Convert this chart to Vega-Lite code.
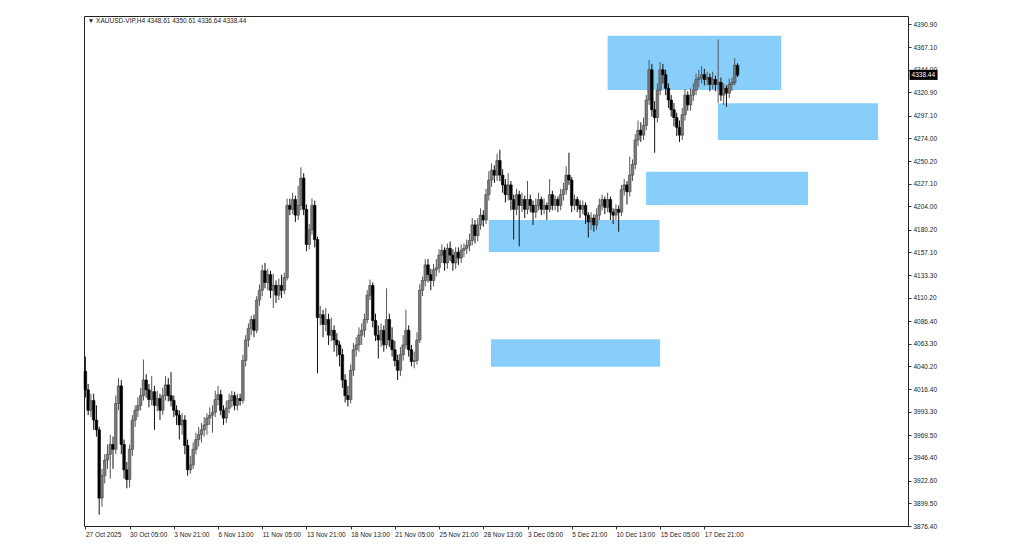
{
"$schema": "https://vega.github.io/schema/vega-lite/v6.json",
"width": 824, "height": 510,
"autosize": {"type": "none"},
"padding": {"left": 84, "top": 16, "right": 116, "bottom": 33},
"background": "#ffffff",
"config": {"view": {"stroke": "#222222", "strokeWidth": 1}, "font": "Liberation Sans", "axis": {"labelOverlap": false, "labelFlush": false}},
"datasets": {
"boxes": [
{"a":189.0,"b":251.8,"top":4378.9,"bot":4323.3},
{"a":228.9,"b":286.9,"top":4309.6,"bot":4272.0},
{"a":202.9,"b":261.5,"top":4239.5,"bot":4205.4},
{"a":146.0,"b":207.8,"top":4190.0,"bot":4157.2},
{"a":146.8,"b":208.0,"top":4067.7,"bot":4039.7}
],
"bars": [
{"i":0,"o":4035,"h":4050,"l":4008,"c":4016},
{"i":1,"o":4016,"h":4022,"l":3990,"c":3995},
{"i":2,"o":3995,"h":4012,"l":3988,"c":4005},
{"i":3,"o":4005,"h":4012,"l":3975,"c":3985},
{"i":4,"o":3985,"h":4000,"l":3968,"c":3975},
{"i":5,"o":3975,"h":3978,"l":3888,"c":3905},
{"i":6,"o":3905,"h":3935,"l":3896,"c":3928},
{"i":7,"o":3928,"h":3950,"l":3920,"c":3944},
{"i":8,"o":3944,"h":3960,"l":3935,"c":3950},
{"i":9,"o":3950,"h":3970,"l":3925,"c":3960},
{"i":10,"o":3960,"h":3968,"l":3935,"c":3955},
{"i":11,"o":3955,"h":4010,"l":3950,"c":4002},
{"i":12,"o":4002,"h":4028,"l":3995,"c":4020},
{"i":13,"o":4020,"h":4026,"l":3950,"c":3960},
{"i":14,"o":3960,"h":3965,"l":3925,"c":3934},
{"i":15,"o":3934,"h":3942,"l":3915,"c":3924},
{"i":16,"o":3924,"h":3960,"l":3916,"c":3955},
{"i":17,"o":3955,"h":3990,"l":3948,"c":3985},
{"i":18,"o":3985,"h":4000,"l":3978,"c":3995},
{"i":19,"o":3995,"h":4008,"l":3988,"c":4000},
{"i":20,"o":4000,"h":4018,"l":3995,"c":4010},
{"i":21,"o":4010,"h":4047,"l":4005,"c":4026},
{"i":22,"o":4026,"h":4032,"l":4008,"c":4016},
{"i":23,"o":4016,"h":4022,"l":3998,"c":4006},
{"i":24,"o":4006,"h":4030,"l":4000,"c":4014},
{"i":25,"o":4014,"h":4020,"l":3975,"c":4000},
{"i":26,"o":4000,"h":4015,"l":3994,"c":4007},
{"i":27,"o":4007,"h":4012,"l":3985,"c":3995},
{"i":28,"o":3995,"h":4018,"l":3990,"c":4010},
{"i":29,"o":4010,"h":4030,"l":4005,"c":4021},
{"i":30,"o":4021,"h":4028,"l":4004,"c":4010},
{"i":31,"o":4010,"h":4034,"l":3999,"c":4005},
{"i":32,"o":4005,"h":4010,"l":3988,"c":3995},
{"i":33,"o":3995,"h":4000,"l":3980,"c":3990},
{"i":34,"o":3990,"h":3995,"l":3965,"c":3980},
{"i":35,"o":3980,"h":3992,"l":3970,"c":3985},
{"i":36,"o":3985,"h":3990,"l":3950,"c":3959},
{"i":37,"o":3959,"h":3965,"l":3928,"c":3934},
{"i":38,"o":3934,"h":3948,"l":3930,"c":3939},
{"i":39,"o":3939,"h":3962,"l":3935,"c":3955},
{"i":40,"o":3955,"h":3972,"l":3950,"c":3965},
{"i":41,"o":3965,"h":3978,"l":3958,"c":3970},
{"i":42,"o":3970,"h":3982,"l":3962,"c":3975},
{"i":43,"o":3975,"h":3988,"l":3968,"c":3980},
{"i":44,"o":3980,"h":3992,"l":3970,"c":3987},
{"i":45,"o":3987,"h":3998,"l":3980,"c":3990},
{"i":46,"o":3990,"h":4000,"l":3972,"c":3993},
{"i":47,"o":3993,"h":4015,"l":3988,"c":4006},
{"i":48,"o":4006,"h":4020,"l":4000,"c":4011},
{"i":49,"o":4011,"h":4016,"l":3990,"c":3995},
{"i":50,"o":3995,"h":4000,"l":3980,"c":3987},
{"i":51,"o":3987,"h":4005,"l":3982,"c":3997},
{"i":52,"o":3997,"h":4012,"l":3992,"c":4005},
{"i":53,"o":4005,"h":4015,"l":3998,"c":4010},
{"i":54,"o":4010,"h":4014,"l":3995,"c":4000},
{"i":55,"o":4000,"h":4012,"l":3995,"c":4007},
{"i":56,"o":4007,"h":4012,"l":4000,"c":4005},
{"i":57,"o":4005,"h":4052,"l":4002,"c":4046},
{"i":58,"o":4046,"h":4072,"l":4040,"c":4067},
{"i":59,"o":4067,"h":4084,"l":4060,"c":4079},
{"i":60,"o":4079,"h":4092,"l":4072,"c":4088},
{"i":61,"o":4088,"h":4093,"l":4070,"c":4077},
{"i":62,"o":4077,"h":4112,"l":4074,"c":4108},
{"i":63,"o":4108,"h":4124,"l":4102,"c":4118},
{"i":64,"o":4118,"h":4144,"l":4112,"c":4138},
{"i":65,"o":4138,"h":4146,"l":4120,"c":4126},
{"i":66,"o":4126,"h":4140,"l":4118,"c":4134},
{"i":67,"o":4134,"h":4138,"l":4110,"c":4118},
{"i":68,"o":4118,"h":4135,"l":4100,"c":4123},
{"i":69,"o":4123,"h":4128,"l":4105,"c":4113},
{"i":70,"o":4113,"h":4130,"l":4108,"c":4123},
{"i":71,"o":4123,"h":4134,"l":4110,"c":4118},
{"i":72,"o":4118,"h":4136,"l":4114,"c":4131},
{"i":73,"o":4131,"h":4212,"l":4128,"c":4205},
{"i":74,"o":4205,"h":4212,"l":4195,"c":4201},
{"i":75,"o":4201,"h":4218,"l":4196,"c":4211},
{"i":76,"o":4211,"h":4215,"l":4188,"c":4195},
{"i":77,"o":4195,"h":4225,"l":4190,"c":4205},
{"i":78,"o":4205,"h":4244,"l":4200,"c":4233},
{"i":79,"o":4233,"h":4238,"l":4195,"c":4201},
{"i":80,"o":4201,"h":4206,"l":4158,"c":4165},
{"i":81,"o":4165,"h":4186,"l":4160,"c":4180},
{"i":82,"o":4180,"h":4212,"l":4175,"c":4205},
{"i":83,"o":4205,"h":4210,"l":4162,"c":4170},
{"i":84,"o":4170,"h":4173,"l":4033,"c":4090},
{"i":85,"o":4090,"h":4102,"l":4082,"c":4093},
{"i":86,"o":4093,"h":4098,"l":4070,"c":4083},
{"i":87,"o":4083,"h":4100,"l":4076,"c":4088},
{"i":88,"o":4088,"h":4094,"l":4062,"c":4072},
{"i":89,"o":4072,"h":4090,"l":4066,"c":4077},
{"i":90,"o":4077,"h":4082,"l":4055,"c":4067},
{"i":91,"o":4067,"h":4074,"l":4050,"c":4062},
{"i":92,"o":4062,"h":4066,"l":4040,"c":4052},
{"i":93,"o":4052,"h":4058,"l":4018,"c":4026},
{"i":94,"o":4026,"h":4032,"l":4003,"c":4010},
{"i":95,"o":4010,"h":4020,"l":3999,"c":4006},
{"i":96,"o":4006,"h":4042,"l":4002,"c":4036},
{"i":97,"o":4036,"h":4064,"l":4030,"c":4057},
{"i":98,"o":4057,"h":4070,"l":4050,"c":4062},
{"i":99,"o":4062,"h":4080,"l":4055,"c":4072},
{"i":100,"o":4072,"h":4084,"l":4062,"c":4077},
{"i":101,"o":4077,"h":4094,"l":4070,"c":4088},
{"i":102,"o":4088,"h":4118,"l":4084,"c":4113},
{"i":103,"o":4113,"h":4129,"l":4108,"c":4123},
{"i":104,"o":4123,"h":4126,"l":4080,"c":4087},
{"i":105,"o":4087,"h":4094,"l":4066,"c":4072},
{"i":106,"o":4072,"h":4082,"l":4048,"c":4067},
{"i":107,"o":4067,"h":4084,"l":4060,"c":4077},
{"i":108,"o":4077,"h":4082,"l":4055,"c":4062},
{"i":109,"o":4062,"h":4120,"l":4058,"c":4088},
{"i":110,"o":4088,"h":4094,"l":4060,"c":4067},
{"i":111,"o":4067,"h":4080,"l":4050,"c":4057},
{"i":112,"o":4057,"h":4066,"l":4040,"c":4046},
{"i":113,"o":4046,"h":4052,"l":4026,"c":4036},
{"i":114,"o":4036,"h":4060,"l":4030,"c":4052},
{"i":115,"o":4052,"h":4072,"l":4046,"c":4062},
{"i":116,"o":4062,"h":4098,"l":4058,"c":4077},
{"i":117,"o":4077,"h":4082,"l":4050,"c":4057},
{"i":118,"o":4057,"h":4062,"l":4040,"c":4045},
{"i":119,"o":4045,"h":4055,"l":4038,"c":4046},
{"i":120,"o":4046,"h":4075,"l":4042,"c":4067},
{"i":121,"o":4067,"h":4124,"l":4064,"c":4118},
{"i":122,"o":4118,"h":4132,"l":4112,"c":4128},
{"i":123,"o":4128,"h":4150,"l":4122,"c":4144},
{"i":124,"o":4144,"h":4150,"l":4126,"c":4134},
{"i":125,"o":4134,"h":4140,"l":4118,"c":4128},
{"i":126,"o":4128,"h":4145,"l":4122,"c":4139},
{"i":127,"o":4139,"h":4150,"l":4132,"c":4141},
{"i":128,"o":4141,"h":4160,"l":4136,"c":4154},
{"i":129,"o":4154,"h":4165,"l":4146,"c":4159},
{"i":130,"o":4159,"h":4162,"l":4138,"c":4146},
{"i":131,"o":4146,"h":4166,"l":4140,"c":4161},
{"i":132,"o":4161,"h":4168,"l":4148,"c":4154},
{"i":133,"o":4154,"h":4160,"l":4138,"c":4146},
{"i":134,"o":4146,"h":4162,"l":4140,"c":4157},
{"i":135,"o":4157,"h":4162,"l":4144,"c":4151},
{"i":136,"o":4151,"h":4165,"l":4146,"c":4159},
{"i":137,"o":4159,"h":4166,"l":4152,"c":4161},
{"i":138,"o":4161,"h":4170,"l":4155,"c":4164},
{"i":139,"o":4164,"h":4176,"l":4158,"c":4169},
{"i":140,"o":4169,"h":4192,"l":4164,"c":4185},
{"i":141,"o":4185,"h":4190,"l":4166,"c":4174},
{"i":142,"o":4174,"h":4192,"l":4168,"c":4185},
{"i":143,"o":4185,"h":4202,"l":4180,"c":4195},
{"i":144,"o":4195,"h":4200,"l":4183,"c":4190},
{"i":145,"o":4190,"h":4222,"l":4186,"c":4216},
{"i":146,"o":4216,"h":4240,"l":4210,"c":4231},
{"i":147,"o":4231,"h":4248,"l":4224,"c":4241},
{"i":148,"o":4241,"h":4246,"l":4228,"c":4236},
{"i":149,"o":4236,"h":4258,"l":4230,"c":4251},
{"i":150,"o":4251,"h":4262,"l":4230,"c":4236},
{"i":151,"o":4236,"h":4242,"l":4218,"c":4226},
{"i":152,"o":4226,"h":4232,"l":4208,"c":4216},
{"i":153,"o":4216,"h":4238,"l":4210,"c":4226},
{"i":154,"o":4226,"h":4230,"l":4200,"c":4211},
{"i":155,"o":4211,"h":4216,"l":4170,"c":4201},
{"i":156,"o":4201,"h":4222,"l":4195,"c":4216},
{"i":157,"o":4216,"h":4220,"l":4163,"c":4205},
{"i":158,"o":4205,"h":4218,"l":4198,"c":4211},
{"i":159,"o":4211,"h":4215,"l":4192,"c":4201},
{"i":160,"o":4201,"h":4230,"l":4196,"c":4211},
{"i":161,"o":4211,"h":4216,"l":4198,"c":4205},
{"i":162,"o":4205,"h":4210,"l":4185,"c":4198},
{"i":163,"o":4198,"h":4212,"l":4192,"c":4205},
{"i":164,"o":4205,"h":4218,"l":4200,"c":4211},
{"i":165,"o":4211,"h":4214,"l":4195,"c":4201},
{"i":166,"o":4201,"h":4212,"l":4196,"c":4205},
{"i":167,"o":4205,"h":4208,"l":4190,"c":4201},
{"i":168,"o":4201,"h":4232,"l":4198,"c":4216},
{"i":169,"o":4216,"h":4220,"l":4200,"c":4205},
{"i":170,"o":4205,"h":4215,"l":4200,"c":4211},
{"i":171,"o":4211,"h":4214,"l":4198,"c":4205},
{"i":172,"o":4205,"h":4222,"l":4200,"c":4216},
{"i":173,"o":4216,"h":4228,"l":4210,"c":4221},
{"i":174,"o":4221,"h":4245,"l":4216,"c":4236},
{"i":175,"o":4236,"h":4259,"l":4226,"c":4231},
{"i":176,"o":4231,"h":4234,"l":4198,"c":4205},
{"i":177,"o":4205,"h":4216,"l":4200,"c":4211},
{"i":178,"o":4211,"h":4214,"l":4198,"c":4205},
{"i":179,"o":4205,"h":4210,"l":4192,"c":4201},
{"i":180,"o":4201,"h":4210,"l":4196,"c":4205},
{"i":181,"o":4205,"h":4208,"l":4186,"c":4195},
{"i":182,"o":4195,"h":4198,"l":4172,"c":4188},
{"i":183,"o":4188,"h":4198,"l":4180,"c":4192},
{"i":184,"o":4192,"h":4196,"l":4178,"c":4185},
{"i":185,"o":4185,"h":4202,"l":4180,"c":4195},
{"i":186,"o":4195,"h":4212,"l":4190,"c":4205},
{"i":187,"o":4205,"h":4216,"l":4200,"c":4211},
{"i":188,"o":4211,"h":4214,"l":4196,"c":4203},
{"i":189,"o":4203,"h":4218,"l":4198,"c":4211},
{"i":190,"o":4211,"h":4214,"l":4190,"c":4198},
{"i":191,"o":4198,"h":4202,"l":4186,"c":4195},
{"i":192,"o":4195,"h":4206,"l":4190,"c":4201},
{"i":193,"o":4201,"h":4205,"l":4178,"c":4198},
{"i":194,"o":4198,"h":4226,"l":4194,"c":4221},
{"i":195,"o":4221,"h":4232,"l":4215,"c":4226},
{"i":196,"o":4226,"h":4230,"l":4206,"c":4219},
{"i":197,"o":4219,"h":4255,"l":4214,"c":4236},
{"i":198,"o":4236,"h":4252,"l":4230,"c":4247},
{"i":199,"o":4247,"h":4278,"l":4242,"c":4272},
{"i":200,"o":4272,"h":4292,"l":4266,"c":4282},
{"i":201,"o":4282,"h":4290,"l":4270,"c":4277},
{"i":202,"o":4277,"h":4295,"l":4272,"c":4287},
{"i":203,"o":4287,"h":4318,"l":4282,"c":4313},
{"i":204,"o":4313,"h":4354,"l":4308,"c":4344},
{"i":205,"o":4344,"h":4350,"l":4296,"c":4303},
{"i":206,"o":4303,"h":4312,"l":4259,"c":4295},
{"i":207,"o":4295,"h":4330,"l":4290,"c":4323},
{"i":208,"o":4323,"h":4352,"l":4318,"c":4344},
{"i":209,"o":4344,"h":4350,"l":4330,"c":4339},
{"i":210,"o":4339,"h":4344,"l":4318,"c":4325},
{"i":211,"o":4325,"h":4330,"l":4305,"c":4313},
{"i":212,"o":4313,"h":4318,"l":4296,"c":4303},
{"i":213,"o":4303,"h":4310,"l":4286,"c":4295},
{"i":214,"o":4295,"h":4300,"l":4276,"c":4285},
{"i":215,"o":4285,"h":4292,"l":4270,"c":4277},
{"i":216,"o":4277,"h":4305,"l":4272,"c":4298},
{"i":217,"o":4298,"h":4324,"l":4292,"c":4318},
{"i":218,"o":4318,"h":4322,"l":4302,"c":4308},
{"i":219,"o":4308,"h":4325,"l":4302,"c":4318},
{"i":220,"o":4318,"h":4330,"l":4312,"c":4323},
{"i":221,"o":4323,"h":4340,"l":4318,"c":4334},
{"i":222,"o":4334,"h":4344,"l":4326,"c":4336},
{"i":223,"o":4336,"h":4348,"l":4330,"c":4339},
{"i":224,"o":4339,"h":4345,"l":4328,"c":4334},
{"i":225,"o":4334,"h":4342,"l":4328,"c":4336},
{"i":226,"o":4336,"h":4340,"l":4322,"c":4329},
{"i":227,"o":4329,"h":4342,"l":4324,"c":4334},
{"i":228,"o":4334,"h":4338,"l":4322,"c":4329},
{"i":229,"o":4329,"h":4375,"l":4310,"c":4331},
{"i":230,"o":4331,"h":4336,"l":4312,"c":4318},
{"i":231,"o":4318,"h":4330,"l":4308,"c":4325},
{"i":232,"o":4325,"h":4328,"l":4306,"c":4320},
{"i":233,"o":4320,"h":4335,"l":4315,"c":4329},
{"i":234,"o":4329,"h":4336,"l":4322,"c":4331},
{"i":235,"o":4331,"h":4356,"l":4328,"c":4348.61},
{"i":236,"o":4348.61,"h":4350.61,"l":4336.64,"c":4338.44}
]
},
"layer": [
{
"data": {"name": "boxes"},
"mark": {"type": "rect", "color": "#87CEFA", "opacity": 1},
"encoding": {
"x": {"field": "a", "type": "quantitative",
"scale": {"domain": [-0.5, 297.7], "nice": false, "zero": false, "padding": 0},
"axis": {"values": [0,16,32,48,64,80,96,112,128,144,160,176,192,208,224],
"labelExpr": "['27 Oct 2025','30 Oct 05:00','3 Nov 21:00','6 Nov 13:00','11 Nov 05:00','13 Nov 21:00','18 Nov 13:00','21 Nov 05:00','25 Nov 21:00','28 Nov 13:00','3 Dec 05:00','5 Dec 21:00','10 Dec 13:00','15 Dec 05:00','17 Dec 21:00'][round(datum.value/16)]",
"title": null, "grid": false, "domain": false, "tickSize": 3, "tickColor": "#333333",
"labelAlign": "left", "labelPadding": 2, "labelFontSize": 6.5, "labelColor": "#222222",
"labelFont": "Liberation Sans", "labelOverlap": false, "labelFlush": false}},
"x2": {"field": "b"},
"y": {"field": "top", "type": "quantitative",
"scale": {"domain": [3876.4, 4399.1], "nice": false, "zero": false, "padding": 0},
"axis": {"orient": "right", "values": [4390.9,4367.1,4344.0,4320.9,4297.1,4274.0,4250.2,4227.1,4204.0,4180.2,4157.1,4133.3,4110.2,4086.4,4063.3,4040.2,4016.4,3993.3,3969.5,3946.4,3922.6,3899.5,3876.4],
"format": ".2f", "title": null, "grid": false, "domain": false, "tickSize": 3, "tickColor": "#333333",
"labelPadding": 2, "labelFontSize": 6.5, "labelColor": "#222222", "labelFont": "Liberation Sans",
"labelOverlap": false, "labelFlush": false, "labelBaseline": "middle", "tickCount": 23}},
"y2": {"field": "bot"}
}
},
{
"data": {"name": "bars"},
"mark": {"type": "rule", "strokeWidth": 1},
"encoding": {
"x": {"field": "i", "type": "quantitative"},
"y": {"field": "l", "type": "quantitative"},
"y2": {"field": "h"},
"color": {"condition": {"test": "datum.c >= datum.o", "value": "#555555"}, "value": "#111111"}
}
},
{
"data": {"name": "bars"},
"mark": {"type": "bar", "width": 2.6, "strokeWidth": 0.6},
"encoding": {
"x": {"field": "i", "type": "quantitative"},
"y": {"field": "o", "type": "quantitative"},
"y2": {"field": "c"},
"fill": {"condition": {"test": "datum.c >= datum.o", "value": "#7a7a7a"}, "value": "#000000"},
"stroke": {"condition": {"test": "datum.c >= datum.o", "value": "#444444"}, "value": "#000000"}
}
},
{
"data": {"values": [{"t": "▼ XAUUSD-VIP,H4  4348.61 4350.61 4336.64 4338.44"}]},
"mark": {"type": "text", "align": "left", "baseline": "middle", "fontSize": 6.5, "color": "#222222", "font": "Liberation Sans"},
"encoding": {"x": {"datum": 0.9}, "y": {"datum": 4394.0}, "text": {"field": "t"}}
},
{
"data": {"values": [{"p": 4338.44}]},
"mark": {"type": "rect", "color": "#000000"},
"encoding": {"x": {"datum": 298.3}, "x2": {"datum": 308.4}, "y": {"datum": 4343.9}, "y2": {"datum": 4333.6}}
},
{
"data": {"values": [{"t": "4338.44"}]},
"mark": {"type": "text", "align": "left", "baseline": "middle", "fontSize": 6.5, "color": "#ffffff", "font": "Liberation Sans"},
"encoding": {"x": {"datum": 299.0}, "y": {"datum": 4338.6}, "text": {"field": "t"}}
}
]
}
